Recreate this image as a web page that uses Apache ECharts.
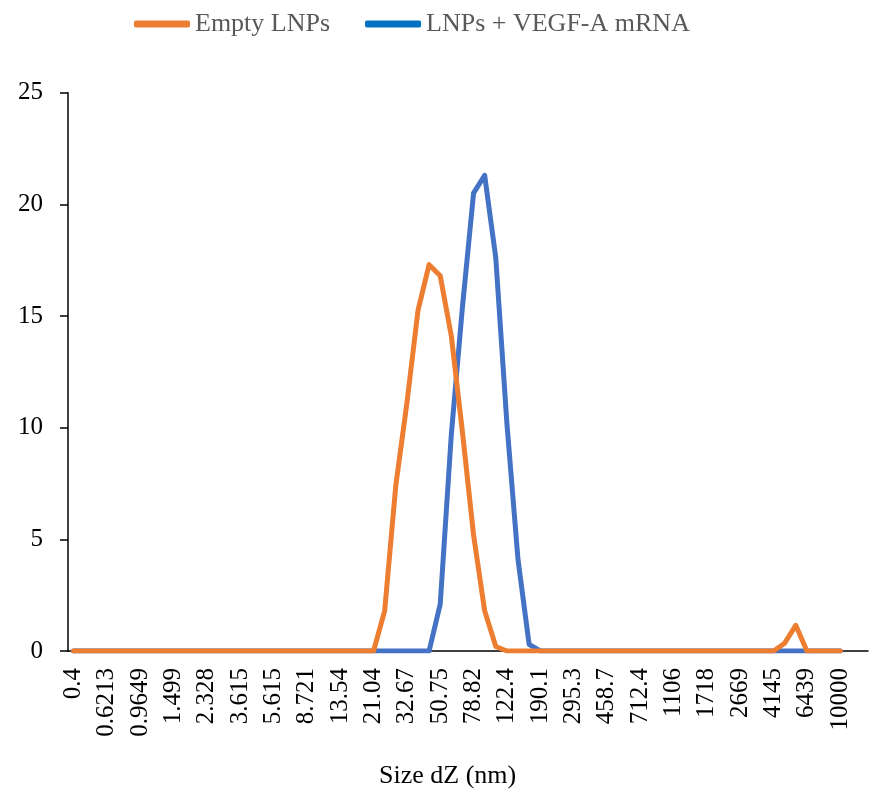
<!DOCTYPE html>
<html>
<head>
<meta charset="utf-8">
<script src="https://cdn.jsdelivr.net/npm/echarts@6/dist/echarts.min.js"></script>
<style>
  html, body { margin: 0; padding: 0; background: #ffffff; }
  #chart { width: 874px; height: 795px; }
</style>
</head>
<body>
<div id="chart"></div>
<script>
// Size classes (nm)
var sizeCategories = ['0.4','0.4632','0.5365','0.6213','0.7195','0.8332','0.9649','1.117','1.294','1.499',
  '1.736','2.01','2.328','2.696','3.122','3.615','4.187','4.849','5.615','6.503',
  '7.531','8.721','10.1','11.7','13.54','15.69','18.17','21.04','24.36','28.21',
  '32.67','37.84','43.82','50.75','58.77','68.06','78.82','91.28','105.7','122.4',
  '141.8','164.2','190.1','220.2','255','295.3','342','396.1','458.7','531.2',
  '615.1','712.4','825','955.4','1106','1281','1484','1718','1990','2305',
  '2669','3091','3580','4145','4801','5560','6439','7456','8635','10000'];

var emptyLNPs = [0,0,0,0,0,0,0,0,0,0,
  0,0,0,0,0,0,0,0,0,0,
  0,0,0,0,0,0,0,0,1.8,7.4,
  11.1,15.25,17.3,16.8,14.1,9.8,5.2,1.8,0.2,0,
  0,0,0,0,0,0,0,0,0,0,
  0,0,0,0,0,0,0,0,0,0,
  0,0,0,0,0.35,1.15,0,0,0,0];

var vegfLNPs = [0,0,0,0,0,0,0,0,0,0,
  0,0,0,0,0,0,0,0,0,0,
  0,0,0,0,0,0,0,0,0,0,
  0,0,0,2.1,9.7,15.4,20.5,21.3,17.6,10.2,
  4.1,0.3,0,0,0,0,0,0,0,0,
  0,0,0,0,0,0,0,0,0,0,
  0,0,0,0,0,0,0,0,0,0];

var seriesNames = ['Empty LNPs', 'LNPs + VEGF-A mRNA'];
var yTicks = { min: 0, max: 25, interval: 5 };
var xAxisTitle = 'Size dZ (nm)';

var axisCats = sizeCategories.concat(['', '']);

var chart = echarts.init(document.getElementById('chart'), null, { renderer: 'canvas' });
var font = '"Liberation Serif", "Times New Roman", serif';

chart.setOption({
  animation: false,
  backgroundColor: '#ffffff',
  textStyle: { fontFamily: font },
  legend: {
    left: 129,
    top: 6,
    itemWidth: 56,
    itemHeight: 7,
    itemGap: 35,
    icon: 'roundRect',
    textStyle: { fontFamily: font, fontSize: 26, color: '#595959' },
    data: [
      { name: seriesNames[0], itemStyle: { color: '#ED7D31' } },
      { name: seriesNames[1], itemStyle: { color: '#0070C0' } }
    ]
  },
  grid: { left: 68, right: 6, top: 92.7, bottom: 144, containLabel: false },
  xAxis: {
    type: 'category',
    data: axisCats,
    boundaryGap: true,
    axisLine: { lineStyle: { color: '#000', width: 1.5 } },
    axisTick: { show: false },
    axisLabel: {
      interval: 2,
      rotate: 90,
      margin: 17,
      fontFamily: font,
      fontSize: 25,
      color: '#000'
    },
    splitLine: { show: false }
  },
  yAxis: {
    type: 'value',
    min: yTicks.min,
    max: yTicks.max,
    interval: yTicks.interval,
    axisLine: { show: true, lineStyle: { color: '#000', width: 1.5 } },
    axisTick: { show: true, inside: false, length: 8, lineStyle: { color: '#000', width: 1.5 } },
    axisLabel: { margin: 25, fontFamily: font, fontSize: 25, color: '#000' },
    splitLine: { show: false }
  },
  graphic: [{
    type: 'text',
    left: 379,
    top: 763,
    style: { text: xAxisTitle, fontFamily: font, fontSize: 26, fill: '#000' }
  }],
  series: [
    {
      name: seriesNames[1],
      type: 'line',
      data: vegfLNPs,
      showSymbol: false,
      symbol: 'none',
      smooth: false,
      z: 2,
      lineStyle: { color: '#4472C4', width: 5, cap: 'round', join: 'round' },
      itemStyle: { color: '#4472C4' }
    },
    {
      name: seriesNames[0],
      type: 'line',
      data: emptyLNPs,
      showSymbol: false,
      symbol: 'none',
      smooth: false,
      z: 3,
      lineStyle: { color: '#ED7D31', width: 5, cap: 'round', join: 'round' },
      itemStyle: { color: '#ED7D31' }
    }
  ]
});
</script>
</body>
</html>
